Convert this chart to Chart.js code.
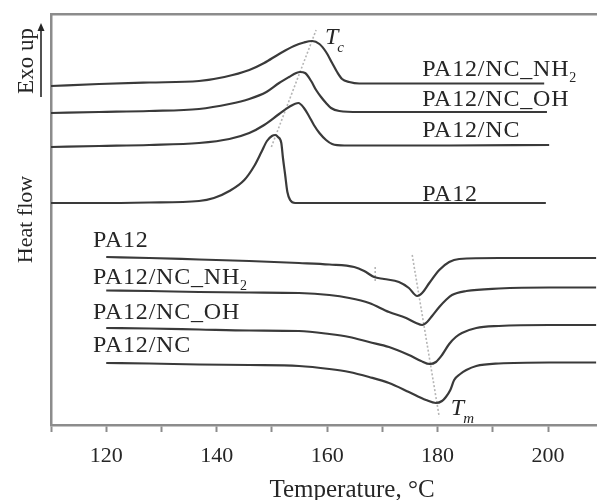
<!DOCTYPE html>
<html>
<head>
<meta charset="utf-8">
<script src="https://cdn.jsdelivr.net/npm/chart.js@4.4.1/dist/chart.umd.min.js"></script>
<style>
  html, body { margin: 0; padding: 0; background: #fff; overflow: hidden; }
  /* the figure is cropped on the right, so the canvas runs past the window */
  #wrap { width: 653px; height: 500px; position: relative; }
</style>
</head>
<body>
<div id="wrap"><canvas id="dsc"></canvas></div>
<script>
// temperature (°C) and heat flow (a.u.)

// cooling scans (exothermic peaks)
const coolT_NH2 = [110, 118.7, 127.8, 136.8, 141.4, 145.9, 148.6, 151.3, 154.0, 155.8, 157.3, 158.6, 159.8, 160.9, 161.8, 162.7, 164.0, 165.8, 182.1, 199.3];
const coolHF_NH2 = [33.9, 34.1, 34.25, 34.4, 34.8, 35.5, 36.2, 37.1, 37.9, 38.25, 38.4, 38.1, 37.3, 36.2, 35.3, 34.6, 34.3, 34.15, 34.15, 34.15];

const coolT_OH = [110, 118.7, 127.8, 136.8, 142.3, 145.9, 149.0, 151.3, 153.1, 154.4, 155.1, 156.0, 157.1, 158.0, 158.9, 159.8, 160.7, 162.2, 165.8, 182.1, 199.8];
const coolHF_OH = [31.2, 31.3, 31.4, 31.6, 32.1, 32.6, 33.3, 34.2, 34.8, 35.2, 35.3, 35.2, 34.4, 33.5, 32.8, 32.2, 31.7, 31.4, 31.3, 31.3, 31.3];

const coolT_NC = [110, 118.7, 127.8, 136.8, 142.3, 145.9, 148.6, 151.3, 153.1, 154.8, 155.8, 156.7, 157.6, 158.6, 159.8, 160.9, 163.1, 182.1, 200.2];
const coolHF_NC = [27.8, 27.9, 28.0, 28.2, 28.6, 29.2, 30.0, 31.1, 31.8, 32.2, 31.7, 30.9, 30.0, 29.2, 28.5, 28.1, 27.95, 27.95, 28.0];

const coolT_PA12 = [110, 118.7, 127.8, 136.8, 139.5, 142.3, 145.0, 146.8, 148.1, 149.1, 150.0, 150.6, 151.1, 151.7, 152.0, 152.4, 152.8, 153.3, 154.2, 158.6, 182.1, 199.6];
const coolHF_PA12 = [22.2, 22.2, 22.25, 22.4, 22.7, 23.4, 24.5, 25.9, 27.3, 28.4, 28.9, 29.0, 28.8, 28.2, 26.7, 25.0, 23.3, 22.5, 22.2, 22.2, 22.2, 22.2];

// heating scans (endothermic melting)
const heatT_PA12 = [120, 127.8, 136.8, 145.9, 154.9, 160.4, 164.9, 166.7, 168.5, 170.3, 173.0, 174.8, 176.3, 177.2, 178.5, 180.3, 182.1, 183.9, 191.1, 200.2, 208.7];
const heatHF_PA12 = [16.8, 16.7, 16.55, 16.4, 16.2, 16.05, 15.8, 15.4, 14.8, 14.6, 14.3, 13.7, 12.9, 13.2, 14.2, 15.5, 16.3, 16.6, 16.7, 16.7, 16.7];

const heatT_NH2 = [120, 127.8, 136.8, 145.9, 154.9, 160.4, 164.0, 167.6, 171.2, 174.3, 176.1, 177.2, 178.1, 179.0, 180.3, 181.5, 182.6, 185.2, 191.1, 200.2, 208.7];
const heatHF_NH2 = [13.45, 13.4, 13.3, 13.25, 13.2, 13.0, 12.7, 12.2, 11.3, 10.7, 10.2, 10.0, 10.3, 10.9, 11.8, 12.5, 13.0, 13.4, 13.65, 13.75, 13.75];

const heatT_OH = [120, 127.8, 136.8, 145.9, 154.9, 160.4, 164.0, 167.6, 171.2, 174.8, 177.0, 178.6, 179.7, 180.8, 182.1, 183.3, 184.4, 187.0, 191.1, 200.2, 208.7];
const heatHF_OH = [9.7, 9.65, 9.55, 9.45, 9.4, 9.1, 8.8, 8.3, 7.8, 7.0, 6.4, 6.1, 6.3, 7.0, 8.1, 8.8, 9.2, 9.7, 9.9, 10.0, 10.0];

const heatT_NC = [120, 127.8, 136.8, 145.9, 154.9, 160.4, 164.0, 167.6, 171.2, 174.8, 177.9, 179.7, 180.8, 181.5, 182.3, 183.0, 184.1, 185.2, 187.0, 191.1, 200.2, 208.7];
const heatHF_NC = [6.2, 6.15, 6.05, 6.0, 5.9, 5.6, 5.3, 4.8, 4.2, 3.3, 2.5, 2.2, 2.4, 2.8, 3.5, 4.5, 5.1, 5.5, 5.9, 6.15, 6.25, 6.25];

// dotted guide lines through the peaks
const tcLineT = [149.9, 158.0];
const tcLineHF = [27.8, 39.5];
const tmLineT = [175.4, 180.3];
const tmLineHF = [17.0, 0.8];
const shoulderT = [168.7, 168.7];
const shoulderHF = [15.8, 14.2];

const xTicks = [120, 140, 160, 180, 200];

// text labels placed in data units (left edge, baseline)
const curveLabels = [
  { text: "PA12/NC_NH", sub: "2", x: 177.2, y: 34.9 },
  { text: "PA12/NC_OH", x: 177.2, y: 31.9 },
  { text: "PA12/NC", x: 177.2, y: 28.8 },
  { text: "PA12", x: 177.2, y: 22.4 },
  { text: "PA12", x: 117.6, y: 17.8 },
  { text: "PA12/NC_NH", sub: "2", x: 117.6, y: 14.1 },
  { text: "PA12/NC_OH", x: 117.6, y: 10.6 },
  { text: "PA12/NC", x: 117.6, y: 7.3 },
];
const tempLabels = [
  { text: "T", sub: "c", x: 159.6, y: 38.1 },
  { text: "T", sub: "m", x: 182.4, y: 1.0 },
];

const SERIF = "'Liberation Serif', 'DejaVu Serif', serif";
const INK = "#262626";
const LINE = "#3a3a3a";
const AXIS = "#8c8c8c";

function pts(xs, ys) {
  return xs.map((x, i) => ({ x, y: ys[i] }));
}

function curve(label, xs, ys) {
  return {
    label,
    data: pts(xs, ys),
    borderColor: LINE,
    borderWidth: 2.2,
    pointRadius: 0,
    cubicInterpolationMode: "monotone",
    fill: false,
  };
}

function guide(label, xs, ys) {
  return {
    label,
    data: pts(xs, ys),
    borderColor: "#b5b5b5",
    borderWidth: 1.6,
    borderDash: [2, 2],
    pointRadius: 0,
    fill: false,
  };
}

// draws curve names, T_c / T_m and the "Exo up" arrow
const annotations = {
  id: "annotations",
  afterDatasetsDraw(chart) {
    const { ctx, scales } = chart;
    const sx = scales.x, sy = scales.y;
    ctx.save();
    ctx.fillStyle = INK;
    ctx.textBaseline = "alphabetic";
    ctx.textAlign = "left";

    curveLabels.forEach((l) => {
      const px = sx.getPixelForValue(l.x);
      const py = sy.getPixelForValue(l.y);
      ctx.font = `24px ${SERIF}`;
      ctx.letterSpacing = "0.8px";
      ctx.fillText(l.text, px, py);
      if (l.sub) {
        const w = ctx.measureText(l.text).width;
        ctx.font = `14px ${SERIF}`;
        ctx.fillText(l.sub, px + w, py + 6);
      }
      ctx.letterSpacing = "0px";
    });

    tempLabels.forEach((l) => {
      const px = sx.getPixelForValue(l.x);
      const py = sy.getPixelForValue(l.y);
      ctx.font = `italic 24px ${SERIF}`;
      ctx.fillText(l.text, px, py);
      const w = ctx.measureText(l.text).width;
      ctx.font = `italic 15px ${SERIF}`;
      ctx.fillText(l.sub, px + w - 1, py + 8);
    });

    // "Exo up" with arrow, rotated like the axis title
    const top = chart.chartArea.top;
    ctx.save();
    ctx.translate(27, top + 47);
    ctx.rotate(-Math.PI / 2);
    ctx.font = `23px ${SERIF}`;
    ctx.textAlign = "center";
    ctx.textBaseline = "middle";
    ctx.fillText("Exo up", 0, 0);
    ctx.restore();

    ctx.strokeStyle = INK;
    ctx.lineWidth = 1.6;
    ctx.beginPath();
    ctx.moveTo(41, top + 83);
    ctx.lineTo(41, top + 15);
    ctx.stroke();
    ctx.beginPath();
    ctx.moveTo(41, top + 9);
    ctx.lineTo(37.5, top + 17);
    ctx.lineTo(44.5, top + 17);
    ctx.closePath();
    ctx.fill();
    ctx.restore();
  },
};

const ctx = document.getElementById("dsc").getContext("2d");

new Chart(ctx, {
  type: "line",
  data: {
    datasets: [
      curve("PA12/NC_NH2 cooling", coolT_NH2, coolHF_NH2),
      curve("PA12/NC_OH cooling", coolT_OH, coolHF_OH),
      curve("PA12/NC cooling", coolT_NC, coolHF_NC),
      curve("PA12 cooling", coolT_PA12, coolHF_PA12),
      curve("PA12 heating", heatT_PA12, heatHF_PA12),
      curve("PA12/NC_NH2 heating", heatT_NH2, heatHF_NH2),
      curve("PA12/NC_OH heating", heatT_OH, heatHF_OH),
      curve("PA12/NC heating", heatT_NC, heatHF_NC),
      guide("Tc", tcLineT, tcLineHF),
      guide("Tm", tmLineT, tmLineHF),
      guide("shoulder", shoulderT, shoulderHF),
    ],
  },
  options: {
    responsive: true,
    maintainAspectRatio: false,
    animation: false,
    layout: { padding: { top: 14, right: 0, bottom: 0, left: 0 } },
    plugins: {
      legend: { display: false },
      tooltip: { enabled: false },
    },
    scales: {
      x: {
        type: "linear",
        position: "bottom",
        min: 110,
        max: 219,
        afterFit: (s) => {
          s.height = 75;
          s.paddingLeft = 0;
          s.paddingRight = 0;
        },
        ticks: {
          stepSize: 10,
          autoSkip: false,
          maxRotation: 0,
          padding: 11,
          color: INK,
          font: { family: SERIF, size: 22 },
          callback: (v) => (xTicks.includes(v) ? String(v) : ""),
        },
        grid: {
          display: true,
          drawOnChartArea: false,
          drawTicks: true,
          tickLength: 7,
          tickColor: AXIS,
          tickWidth: 2,
        },
        border: { display: true, color: AXIS, width: 2.5 },
        title: {
          display: true,
          text: "Temperature, °C",
          color: INK,
          font: { family: SERIF, size: 25, lineHeight: 1 },
          padding: { top: 0, bottom: -3 },
        },
      },
      x2: {
        type: "linear",
        axis: "x",
        position: "top",
        min: 110,
        max: 219,
        afterFit: (s) => {
          s.paddingLeft = 0;
          s.paddingRight = 0;
        },
        ticks: { display: false },
        grid: { display: false, drawTicks: false },
        border: { display: true, color: AXIS, width: 2.5 },
      },
      y: {
        type: "linear",
        min: 0,
        max: 41.1,
        afterFit: (s) => { s.width = 51; },
        ticks: { display: false },
        grid: { display: false },
        border: { display: true, color: AXIS, width: 2.5 },
        title: {
          display: true,
          text: "Heat flow",
          color: INK,
          font: { family: SERIF, size: 22, lineHeight: 1 },
          padding: { top: 15, bottom: 0 },
        },
      },
    },
  },
  plugins: [annotations],
});
</script>
</body>
</html>
